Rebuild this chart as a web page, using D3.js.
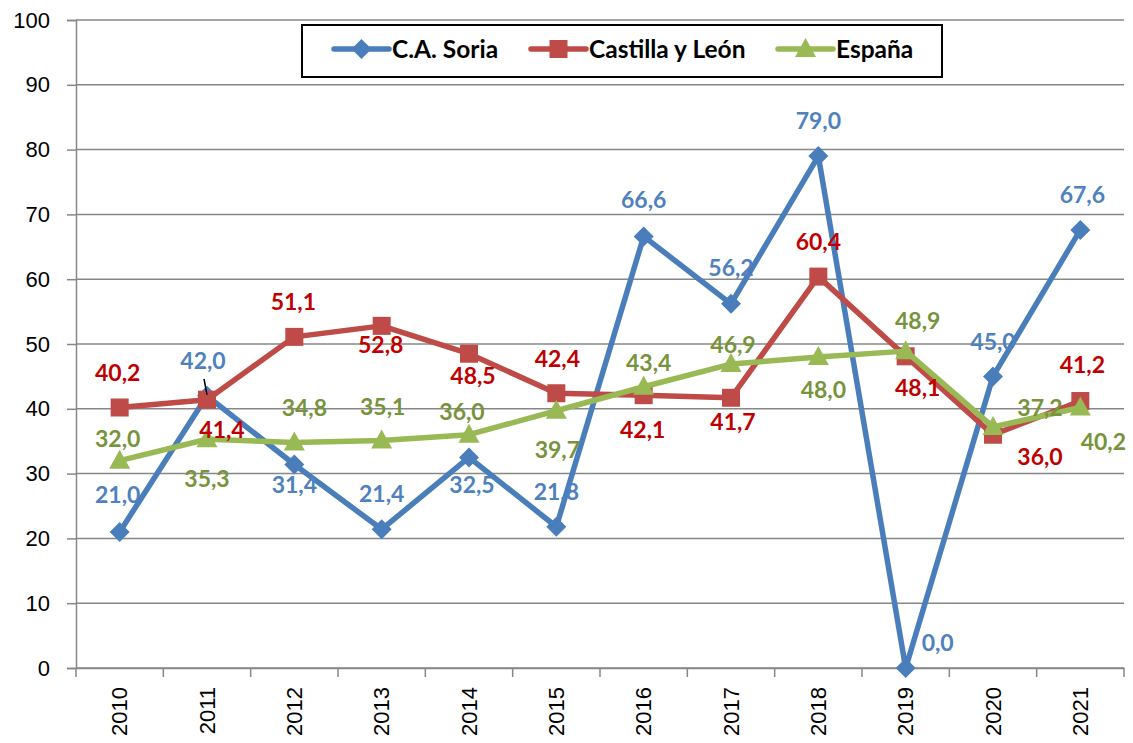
<!DOCTYPE html>
<html>
<head>
<meta charset="utf-8">
<script src="https://cdn.jsdelivr.net/npm/d3@7"></script>
<style>
  body { margin: 0; background: #fff; }
  svg { display: block; }
  .tick text { font-family: "Liberation Sans", Arial, sans-serif; font-size: 22px; fill: #000; }
  .lbl { font-family: Lato, "Liberation Sans", sans-serif; font-weight: bold; font-size: 23px; }
  .leg { font-family: Lato, "Liberation Sans", sans-serif; font-weight: bold; font-size: 24.5px; fill: #000; }
</style>
</head>
<body>
<svg width="1133" height="743"></svg>
<script>
// datos
var years = ["2010","2011","2012","2013","2014","2015","2016","2017","2018","2019","2020","2021"];
var soria = [21.0, 42.0, 31.4, 21.4, 32.5, 21.8, 66.6, 56.2, 79.0, 0.0, 45.0, 67.6];
var castilla = [40.2, 41.4, 51.1, 52.8, 48.5, 42.4, 42.1, 41.7, 60.4, 48.1, 36.0, 41.2];
var espana = [32.0, 35.3, 34.8, 35.1, 36.0, 39.7, 43.4, 46.9, 48.0, 48.9, 37.2, 40.2];
var yTicks = [0, 10, 20, 30, 40, 50, 60, 70, 80, 90, 100];

// desplazamiento de las etiquetas (x, y) respecto al punto
var offSoria = [[-2,-37],[-4,-35],[0,20],[0,-35],[3,28],[0,-35],[0,-36],[0,-36],[0,-35],[32,-25],[0,-34],[2,-35]];
var offCastilla = [[-2,-35],[15,30],[-1,-35],[-1,19],[4,22],[1,-34],[-1,35],[2,24],[0,-35],[12,32],[47,22],[2,-36]];
var offEspana = [[-2,-22],[0,40],[10,-35],[1,-34],[-7,-23],[1,39],[5,-24],[2,-19],[5,33],[12,-30],[47,-19],[23,34]];

var series = [
  {name: "C.A. Soria", values: soria, off: offSoria, line: "#4A7EBB", label: "#4F81BD", marker: "diamond"},
  {name: "Castilla y León", values: castilla, off: offCastilla, line: "#BE4B48", label: "#C00000", marker: "square"},
  {name: "España", values: espana, off: offEspana, line: "#98B954", label: "#77933C", marker: "triangle"}
];

var svg = d3.select("svg");
var pLeft = 76, pRight = 1124, pTop = 20, pBottom = 668;

var x = d3.scaleBand().domain(years).range([pLeft, pRight]);
var y = d3.scaleLinear().domain([0, 100]).range([pBottom, pTop]);
var cx = function(i) { return x(years[i]) + x.bandwidth() / 2; };

// rejilla
svg.append("g").selectAll("line").data(yTicks).enter().append("line")
  .attr("x1", pLeft).attr("x2", pRight)
  .attr("y1", function(d) { return y(d); }).attr("y2", function(d) { return y(d); })
  .attr("stroke", "#878787").attr("stroke-width", 1.5);

// eje y
var yAxis = svg.append("g").attr("transform", "translate(" + pLeft + ",0)")
  .call(d3.axisLeft(y).tickValues(yTicks).tickSize(9).tickPadding(17).tickFormat(d3.format("d")));
yAxis.select(".domain").attr("stroke", "#878787").attr("stroke-width", 1.5);
yAxis.selectAll(".tick line").attr("stroke", "#878787").attr("stroke-width", 1.5);

// eje x
var xAxis = svg.append("g").attr("transform", "translate(0," + pBottom + ")")
  .call(d3.axisBottom(x).tickSize(0));
xAxis.select(".domain").attr("stroke", "#878787").attr("stroke-width", 1.5);
xAxis.selectAll(".tick text")
  .attr("transform", "rotate(-90)")
  .attr("text-anchor", "end")
  .attr("x", -19).attr("y", 0).attr("dy", "0.35em");
var bounds = years.map(function(d) { return x(d); }).concat([pRight]);
xAxis.selectAll(".bt").data(bounds).enter().append("line")
  .attr("class", "bt")
  .attr("x1", function(d) { return d; }).attr("x2", function(d) { return d; })
  .attr("y1", 0).attr("y2", 9)
  .attr("stroke", "#878787").attr("stroke-width", 1.5);

function drawMarker(g, type, color) {
  if (type == "diamond") {
    g.append("path").attr("d", "M0,-10L10,0L0,10L-10,0Z").attr("fill", color);
  } else if (type == "square") {
    g.append("rect").attr("x", -9).attr("y", -9).attr("width", 18).attr("height", 18).attr("fill", color);
  } else {
    g.append("path").attr("d", "M0,-11L10.5,8L-10.5,8Z").attr("fill", color);
  }
}

var line = d3.line().x(function(d, i) { return cx(i); }).y(function(d) { return y(d); });

series.forEach(function(s) {
  svg.append("path").datum(s.values)
    .attr("d", line)
    .attr("fill", "none")
    .attr("stroke", s.line)
    .attr("stroke-width", 5.5)
    .attr("stroke-linejoin", "round");
  s.values.forEach(function(v, i) {
    var g = svg.append("g").attr("transform", "translate(" + cx(i) + "," + y(v) + ")");
    drawMarker(g, s.marker, s.line);
  });
});

// linea guia de la etiqueta 42,0
svg.append("line")
  .attr("x1", cx(1) - 3).attr("y1", y(soria[1]) - 17)
  .attr("x2", cx(1)).attr("y2", y(soria[1]) - 1)
  .attr("stroke", "#000").attr("stroke-width", 1.5);

// etiquetas
var fmt = function(v) { return v.toFixed(1).replace(".", ","); };
series.forEach(function(s) {
  s.values.forEach(function(v, i) {
    svg.append("text").attr("class", "lbl")
      .attr("x", cx(i) + s.off[i][0])
      .attr("y", y(v) + s.off[i][1])
      .attr("dy", "0.35em")
      .attr("text-anchor", "middle")
      .attr("fill", s.label)
      .text(fmt(v));
  });
});

// leyenda
svg.append("rect").attr("x", 302).attr("y", 25).attr("width", 640).attr("height", 52)
  .attr("fill", "#fff").attr("stroke", "#000").attr("stroke-width", 2);
var legX = [334, 531, 778];
series.forEach(function(s, i) {
  var g = svg.append("g").attr("transform", "translate(" + legX[i] + ",49)");
  g.append("line").attr("x1", 0).attr("x2", 55).attr("stroke", s.line)
    .attr("stroke-width", 5.5).attr("stroke-linecap", "round");
  var m = g.append("g").attr("transform", "translate(27.5,0)");
  drawMarker(m, s.marker, s.line);
  g.append("text").attr("class", "leg").attr("x", 58).attr("dy", "0.35em").text(s.name);
});
</script>
</body>
</html>
